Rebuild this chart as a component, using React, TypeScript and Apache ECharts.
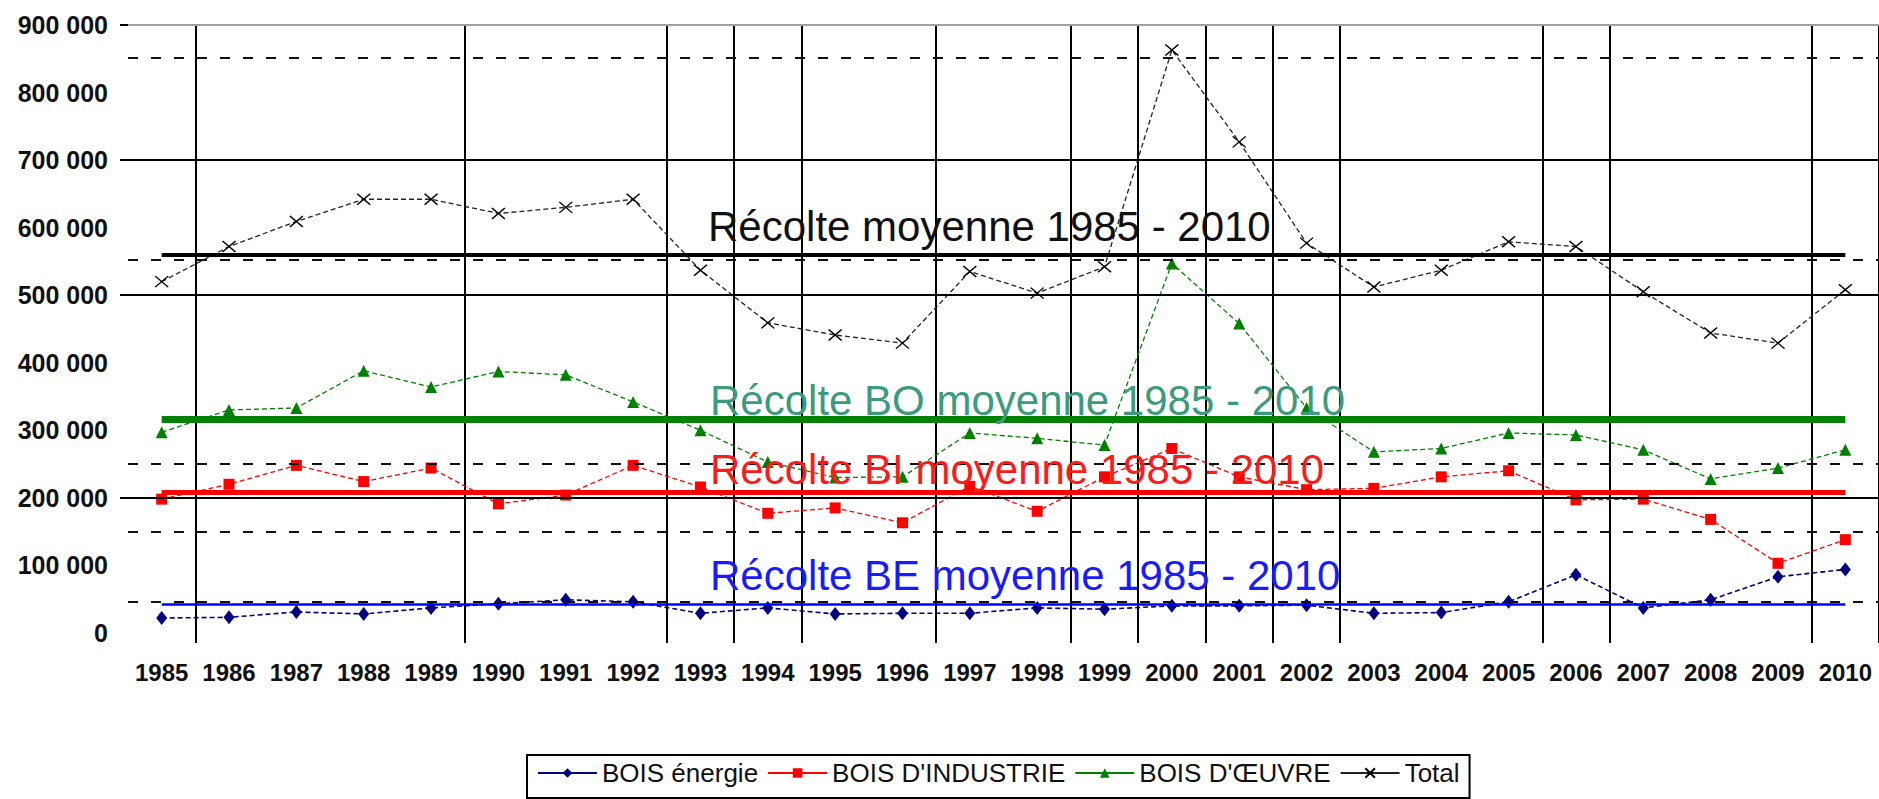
import React, { useEffect, useRef } from 'react';
import * as echarts from 'echarts';

const years = ['1985', '1986', '1987', '1988', '1989', '1990', '1991', '1992', '1993', '1994', '1995', '1996', '1997', '1998', '1999', '2000', '2001', '2002', '2003', '2004', '2005', '2006', '2007', '2008', '2009', '2010'];

const boisEnergie = [22000, 23000, 31000, 28000, 37000, 43000, 49000, 46000, 29000, 37000, 28000, 29000, 29000, 37000, 35000, 40000, 40000, 41000, 29000, 30000, 46000, 86000, 37000, 49000, 83000, 94000];
const boisIndustrie = [198000, 220000, 248000, 224000, 244000, 191000, 204000, 248000, 216000, 177000, 185000, 163000, 217000, 180000, 231000, 273000, 231000, 212000, 214000, 231000, 240000, 197000, 198000, 168000, 103000, 138000];
const boisOeuvre = [297000, 330000, 333000, 388000, 364000, 387000, 382000, 342000, 300000, 253000, 230000, 231000, 296000, 288000, 278000, 547000, 458000, 333000, 268000, 273000, 296000, 293000, 271000, 228000, 244000, 271000];
const total = [520000, 572000, 609000, 642000, 642000, 621000, 630000, 642000, 537000, 459000, 441000, 429000, 535000, 503000, 542000, 863000, 727000, 577000, 512000, 537000, 579000, 572000, 505000, 444000, 429000, 508000];

// mean lines
const meanTotal = 560000;
const meanBO = 317000;
const meanBI = 208000;
const meanBE = 43000;

const yTickLabels = [0, 100000, 200000, 300000, 400000, 500000, 600000, 700000, 800000, 900000];
const solidGridValues = [700000, 500000, 200000];
const dashedGridValues = [851000, 552000, 251000, 150000, 46000];
const topGridValue = 900000;
const verticalLineIdx = [1, 5, 8, 9, 10, 12, 14, 15, 16, 17, 18, 21, 22, 25];

const seriesNames = ['BOIS énergie', "BOIS D'INDUSTRIE", "BOIS D'ŒUVRE", 'Total'];
const annotations = [
  'Récolte moyenne 1985 - 2010',
  'Récolte BO moyenne 1985 - 2010',
  'Récolte BI moyenne 1985 - 2010',
  'Récolte BE moyenne 1985 - 2010',
];

const FONT = '"Liberation Sans", Arial, sans-serif';
const fmt = (v: number) => String(v).replace(/\B(?=(\d{3})+(?!\d))/g, ' ');

export default function App() {
  const ref = useRef<HTMLDivElement>(null);
  useEffect(() => {
    document.body.style.margin = '0';
    const chart = echarts.init(ref.current!, null, { renderer: 'svg' });
    const first = years[0];
    const last = years[years.length - 1];
    const meanLine = (v: number, color: string, width: number) => [
      { coord: [first, v], lineStyle: { color, width, type: 'solid' } },
      { coord: [last, v] },
    ];
    const option: any = {
      animation: false,
      backgroundColor: '#fff',
      grid: { left: 128, right: 0, top: 25, bottom: 156, containLabel: false },
      xAxis: {
        type: 'category',
        data: years,
        boundaryGap: true,
        axisLine: { show: false },
        axisTick: { show: false },
        axisLabel: { interval: 0, margin: 17, fontSize: 24, fontWeight: 'bold', color: '#111', fontFamily: FONT },
        splitLine: {
          show: true,
          interval: (i: number) => verticalLineIdx.includes(i),
          lineStyle: { color: '#000', width: 2 },
        },
      },
      yAxis: {
        type: 'value',
        min: -15000,
        max: 900000,
        axisLine: { show: false },
        axisTick: { show: true, length: 8, customValues: [topGridValue, ...solidGridValues], lineStyle: { color: '#000', width: 2 } },
        axisLabel: { customValues: yTickLabels, formatter: fmt, margin: 20, fontSize: 25, fontWeight: 'bold', color: '#111', fontFamily: FONT },
        splitLine: { show: false },
      },
      legend: {
        data: seriesNames,
        left: 527,
        top: 755,
        padding: [5, 10, 12, 10],
        itemGap: 9,
        itemWidth: 59,
        itemHeight: 12,
        borderColor: '#000',
        borderWidth: 2,
        selectedMode: false,
        textStyle: { fontSize: 26, color: '#111', fontFamily: FONT },
        lineStyle: { type: 'solid', width: 2 },
      },
      series: [
        {
          type: 'line', name: 'grid', data: years.map(() => null), silent: true, z: 1, symbol: 'none',
          markLine: {
            silent: true, symbol: 'none', label: { show: false }, animation: false,
            data: [
              { yAxis: topGridValue, lineStyle: { color: '#a0a0a0', width: 2, type: 'solid' } },
              ...solidGridValues.map((v) => ({ yAxis: v, lineStyle: { color: '#000', width: 2, type: 'solid' } })),
              ...dashedGridValues.map((v) => ({ yAxis: v, lineStyle: { color: '#111', width: 2, type: [10, 13] } })),
            ],
          },
        },
        {
          type: 'line', name: 'means', data: years.map(() => null), silent: true, z: 2, symbol: 'none',
          markLine: {
            silent: true, symbol: 'none', label: { show: false }, animation: false,
            data: [
              meanLine(meanTotal, '#000', 4),
              meanLine(meanBO, '#008000', 7),
              meanLine(meanBI, '#ff0000', 5),
              meanLine(meanBE, '#0000ff', 2.5),
            ],
          },
        },
        {
          type: 'line', name: seriesNames[0], data: boisEnergie, z: 3,
          symbol: 'diamond', symbolSize: [11, 14],
          itemStyle: { color: '#000080' },
          lineStyle: { color: '#000080', width: 1.6, type: [5, 3] },
        },
        {
          type: 'line', name: seriesNames[1], data: boisIndustrie, z: 3,
          symbol: 'rect', symbolSize: 11,
          itemStyle: { color: '#ff0000' },
          lineStyle: { color: '#ff0000', width: 1.3, type: [5, 3] },
        },
        {
          type: 'line', name: seriesNames[2], data: boisOeuvre, z: 3,
          symbol: 'triangle', symbolSize: 12,
          itemStyle: { color: '#008000' },
          lineStyle: { color: '#008000', width: 1.3, type: [5, 3] },
        },
        {
          type: 'line', name: seriesNames[3], data: total, z: 3,
          symbol: 'path://M0,0L10,10M10,0L0,10', symbolSize: [13, 11],
          itemStyle: { color: '#000', borderColor: '#000', borderWidth: 1.4 },
          lineStyle: { color: '#222', width: 1.3, type: [5, 3] },
        },
      ],
      graphic: [
        { type: 'text', x: 708, y: 226, z: 100, style: { text: annotations[0], fill: '#111', fontSize: 42, fontFamily: FONT, verticalAlign: 'middle' } },
        { type: 'text', x: 710, y: 400, z: 100, style: { text: annotations[1], fill: '#3d9b7d', fontSize: 42, fontFamily: FONT, verticalAlign: 'middle' } },
        { type: 'text', x: 710, y: 469, z: 100, style: { text: annotations[2], fill: '#ff1a1a', fontSize: 42, fontFamily: FONT, verticalAlign: 'middle' } },
        { type: 'text', x: 710, y: 575, z: 100, style: { text: annotations[3], fill: '#1a1aff', fontSize: 42, fontFamily: FONT, verticalAlign: 'middle' } },
      ],
    };
    chart.setOption(option);
    return () => chart.dispose();
  }, []);
  return <div ref={ref} style={{ width: 1879, height: 799, background: '#fff' }} />;
}
